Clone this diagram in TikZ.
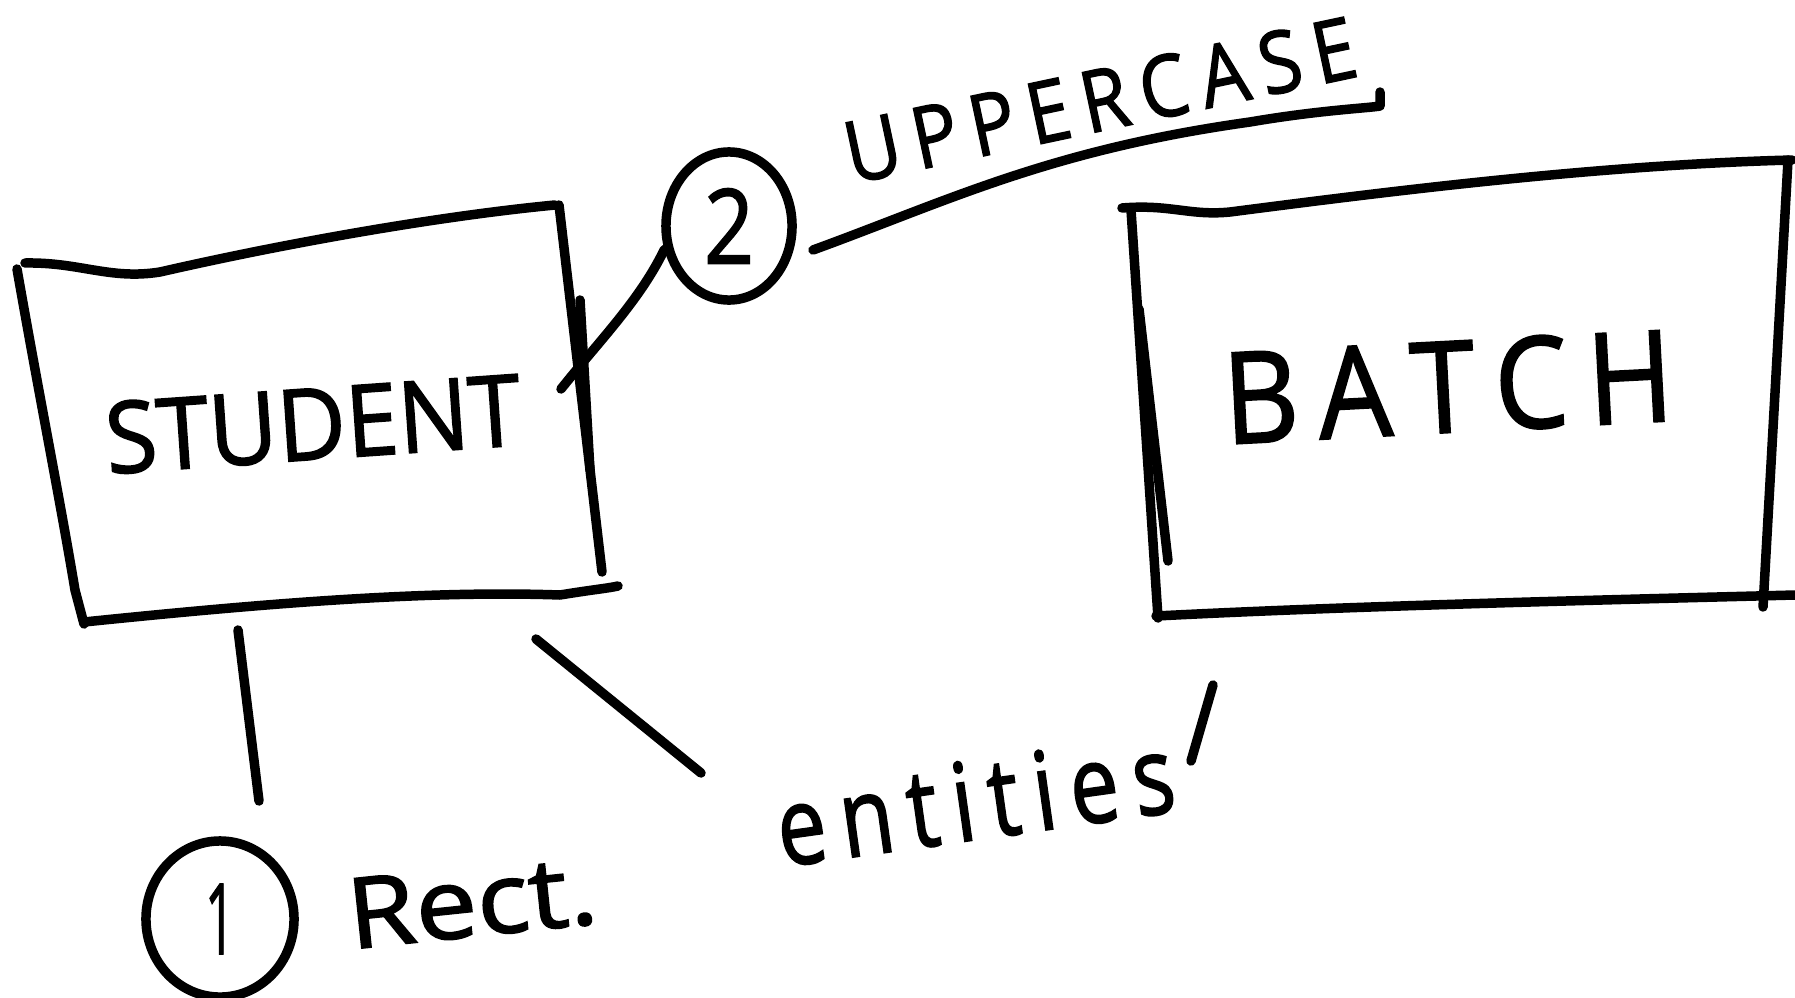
\documentclass[tikz,border=0pt]{standalone}
\usepackage{fontspec}
\setmainfont[FakeBold=1.6,AutoFakeBold=1.6]{Open Sans}
\usetikzlibrary{shapes.geometric}
\begin{document}
\begin{tikzpicture}[x=0.01cm,y=-0.01cm,
  ink/.style={line width=2.7pt,line cap=round,line join=round},
  lbl/.style={inner sep=0pt,outer sep=0pt,font=\bfseries}]
\useasboundingbox (0,0) rectangle (1795,997);
\fill[white] (0,0) rectangle (1795,997);
% STUDENT box
\draw[ink] (25,263) .. controls (80,262) and (110,280) .. (160,272)
  .. controls (300,240) and (450,215) .. (555,205);
\draw[ink] (17,269) .. controls (40,400) and (60,500) .. (75,590) -- (84,624);
\draw[ink] (559,205) -- (602,572);
\draw[ink] (580,300) -- (590,470);
\draw[ink] (84,622) .. controls (250,605) and (420,590) .. (560,595)
  .. controls (590,590) and (610,588) .. (618,586);
% BATCH box
\draw[ink] (1122,208) .. controls (1170,204) and (1190,216) .. (1230,212)
  .. controls (1400,190) and (1600,165) .. (1792,160);
\draw[ink] (1131,210) -- (1158,618);
\draw[ink] (1139,309) -- (1168,561);
\draw[ink] (1788,160) -- (1763,607);
\draw[ink] (1156,616) .. controls (1350,606) and (1600,600) .. (1795,595);
% texts
\node[lbl,rotate=4] (student) at (313,424) {\resizebox{4.16cm}{0.72cm}{STUDENT}};
\node[lbl,rotate=3] (batch) at (1448,387) {\resizebox{4.5cm}{0.92cm}{B\,A\,T\,C\,H}};
\node[lbl,rotate=12] (upper) at (1100,100) {\resizebox{5.2cm}{0.62cm}{U\,P\,P\,E\,R\,C\,A\,S\,E}};
% circle 2
\node[ink,draw,ellipse,minimum width=1.26cm,minimum height=1.48cm,inner sep=0pt] (c2) at (729,226) {};
\node[lbl] (n2) at (c2) {\resizebox{0.5cm}{0.75cm}{2}};
\coordinate (sR) at (561,389);
\draw[ink] (sR) .. controls (600,340) and (640,300) .. (c2.200);
% underline
\coordinate (u0) at (813,250);
\coordinate (u1) at (1380,92);
\draw[ink] (u0) .. controls (950,200) and (1050,150) .. (1250,122)
  .. controls (1320,110) and (1370,108) .. (1380,106) -- (u1);
% circle 1
\node[ink,draw,ellipse,minimum width=1.48cm,minimum height=1.56cm,inner sep=0pt] (c1) at (220,919) {};
\node[lbl] (n1) at (c1) {\resizebox{0.3cm}{0.7cm}{1}};
\coordinate (sB) at (238,630);
\coordinate (sB2) at (259,801);
\draw[ink] (sB) -- (sB2);
\node[lbl,rotate=6] (rect) at (472,902) {\resizebox{2.5cm}{0.7cm}{Rect.}};
% entities
\node[lbl,rotate=8] (ent) at (975,800) {\resizebox{4.0cm}{0.8cm}{e\,n\,t\,i\,t\,i\,e\,s}};
\coordinate (sE) at (536,639);
\coordinate (eA) at (701,773);
\draw[ink] (sE) -- (eA);
\coordinate (tA) at (1191,761);
\coordinate (tB) at (1213,685);
\draw[ink] (tA) -- (tB);
\end{tikzpicture}
\end{document}
